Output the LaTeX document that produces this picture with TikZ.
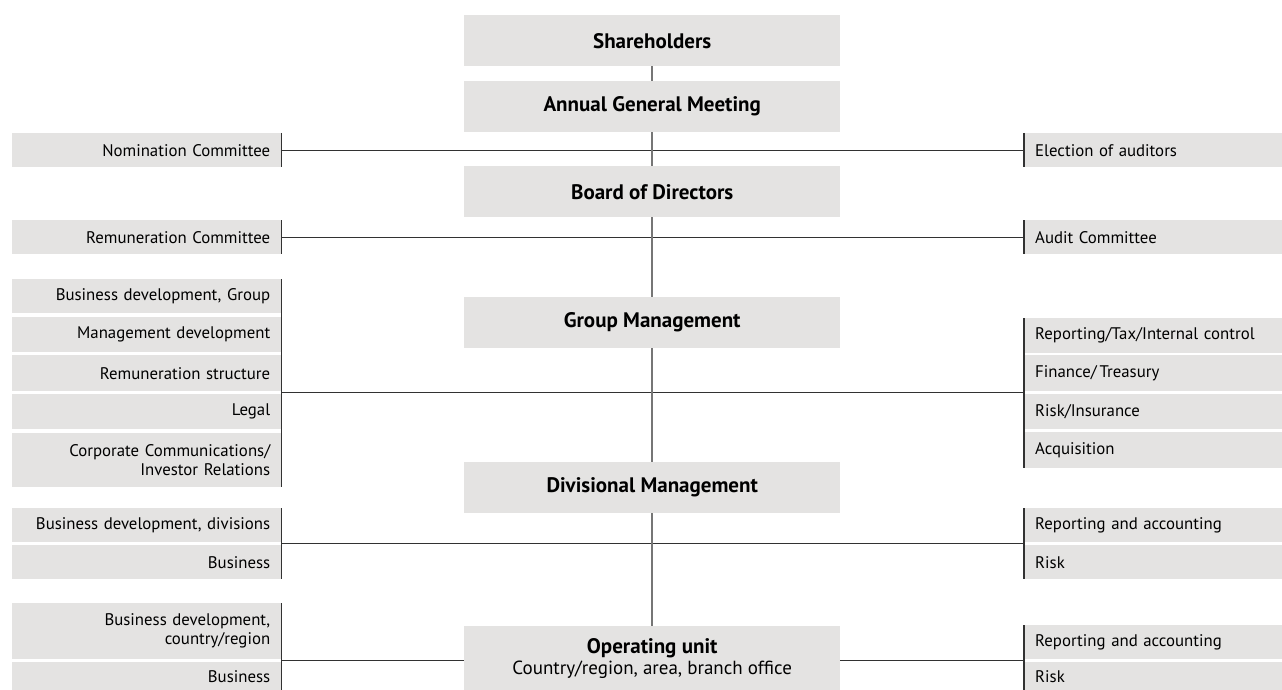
\documentclass[tikz,border=0pt]{standalone}
\usepackage{fontspec}
\setmainfont{PT Sans}
\usetikzlibrary{calc}
\definecolor{boxgrey}{RGB}{228, 227, 226}
\definecolor{lineg}{RGB}{50, 50, 50}
\definecolor{stemg}{RGB}{118, 118, 118}
\tikzset{
  mainbox/.style={fill=boxgrey, anchor=north west, minimum width=376pt, inner sep=0pt, align=center, font=\fontsize{21}{21}\selectfont\bfseries},
  leftbox/.style={fill=boxgrey, anchor=north west, inner xsep=11pt, inner ysep=0pt, text width=247pt, align=right, font=\fontsize{16.8}{19}\selectfont},
  rightbox/.style={fill=boxgrey, anchor=north west, inner xsep=11pt, inner ysep=0pt, text width=236pt, align=left, font=\fontsize{16.8}{19}\selectfont},
  hline/.style={line width=1.2pt, lineg},
  stem/.style={line width=1.8pt, stemg},
  bar/.style={line width=1.4pt, lineg}
}
\begin{document}
\begin{tikzpicture}[x=1pt, y=-1pt]
\useasboundingbox (0,0) rectangle (1282,690);
\node[mainbox, minimum height=51pt] (sh) at (464,15) {Shareholders};
\node[mainbox, minimum height=51pt] (agm) at (464,81) {Annual General Meeting};
\node[mainbox, minimum height=51pt] (bod) at (464,166) {Board of Directors};
\node[mainbox, minimum height=51pt] (gm) at (464,297) {Group Management};
\node[mainbox, minimum height=51pt] (dm) at (464,462) {Divisional Management};
\node[mainbox, minimum height=64pt] (ou) at (464,626) {Operating unit\\{\mdseries\fontsize{19}{21}\selectfont Country/region, area, branch office}};
\node[leftbox, minimum height=34pt] (nom) at (12,133) {Nomination Committee};
\node[leftbox, minimum height=34pt] (remc) at (12,220) {Remuneration Committee};
\node[leftbox, minimum height=34pt] (bdg) at (12,279) {Business development, Group};
\node[leftbox, minimum height=35pt] (mgd) at (12,317) {Management development};
\node[leftbox, minimum height=36pt] (rems) at (12,355) {Remuneration structure};
\node[leftbox, minimum height=35pt] (legal) at (12,394) {Legal};
\node[leftbox, minimum height=54pt] (corp) at (12,433) {Corporate Communications/\\Investor Relations};
\node[leftbox, minimum height=34pt] (bdd) at (12,508) {Business development, divisions};
\node[leftbox, minimum height=34pt] (busd) at (12,545) {Business};
\node[leftbox, minimum height=56pt] (bdc) at (12,603) {Business development,\\country/region};
\node[leftbox, minimum height=28pt] (busc) at (12,662) {Business};
\node[rightbox, minimum height=34pt] (elect) at (1024,133) {Election of auditors};
\node[rightbox, minimum height=34pt] (audit) at (1024,220) {Audit Committee};
\node[rightbox, minimum height=35pt] (rtic) at (1024,318) {Reporting/Tax/Internal control};
\node[rightbox, minimum height=36pt] (fin) at (1024,355) {Finance/\,Treasury};
\node[rightbox, minimum height=35pt] (risk) at (1024,394) {Risk/Insurance};
\node[rightbox, minimum height=36pt] (acq) at (1024,432) {Acquisition};
\node[rightbox, minimum height=34pt] (racd) at (1024,508) {Reporting and accounting};
\node[rightbox, minimum height=34pt] (riskd) at (1024,545) {Risk};
\node[rightbox, minimum height=34pt] (racc) at (1024,625) {Reporting and accounting};
\node[rightbox, minimum height=28pt] (riskc) at (1024,662) {Risk};
\draw[hline] (nom.east) -- (elect.west);
\draw[hline] (remc.east) -- (audit.west);
\draw[hline] ($(rems.south east)!.5!(legal.north east)$) -- ($(fin.south west)!.5!(risk.north west)$);
\draw[hline] ($(bdd.south east)!.5!(busd.north east)$) -- ($(racd.south west)!.5!(riskd.north west)$);
\draw[hline] ($(bdc.south east)!.5!(busc.north east)$) -- (ou.west |- {$(bdc.south east)!.5!(busc.north east)$});
\draw[hline] (ou.east |- {$(racc.south west)!.5!(riskc.north west)$}) -- ($(racc.south west)!.5!(riskc.north west)$);
\draw[stem] (sh.south) -- (agm.north);
\draw[stem] (agm.south) -- (bod.north);
\draw[stem] (bod.south) -- (gm.north);
\draw[stem] (gm.south) -- (dm.north);
\draw[stem] (dm.south) -- (ou.north);
\draw[bar] (nom.north east) -- (nom.south east);
\draw[bar] (remc.north east) -- (remc.south east);
\draw[bar] (bdg.north east) -- (corp.south east);
\draw[bar] (bdd.north east) -- (busd.south east);
\draw[bar] (bdc.north east) -- (busc.south east);
\draw[bar] (elect.north west) -- (elect.south west);
\draw[bar] (audit.north west) -- (audit.south west);
\draw[bar] (rtic.north west) -- (acq.south west);
\draw[bar] (racd.north west) -- (riskd.south west);
\draw[bar] (racc.north west) -- (riskc.south west);
\end{tikzpicture}
\end{document}
